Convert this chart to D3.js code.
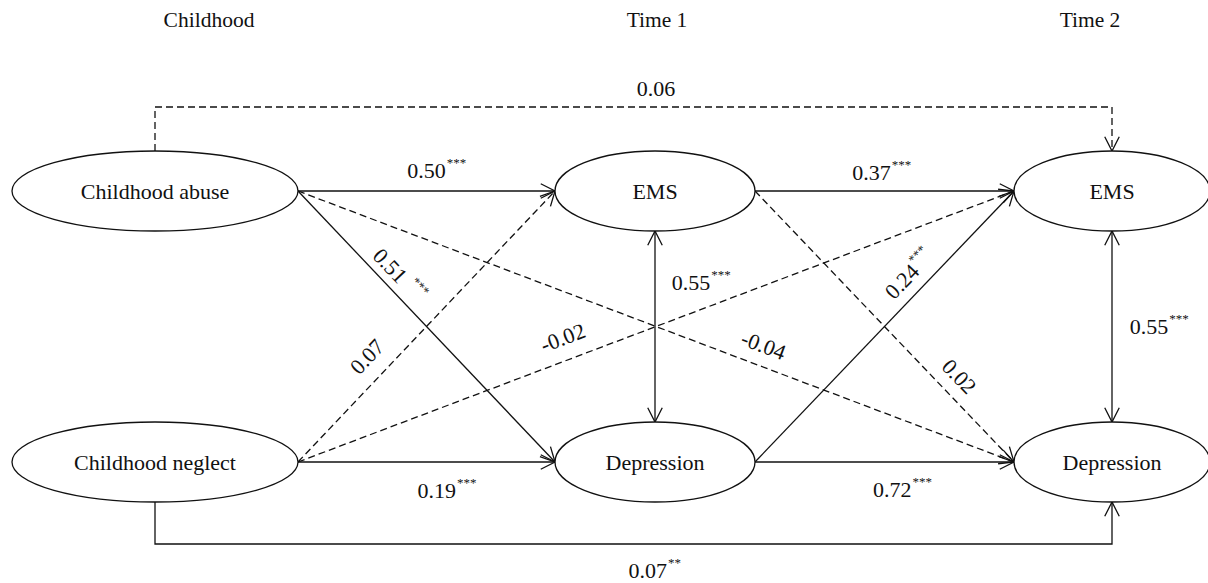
<!DOCTYPE html>
<html>
<head>
<meta charset="utf-8">
<script src="https://cdn.jsdelivr.net/npm/d3@7"></script>
<style>
  html, body { margin: 0; padding: 0; background: #fff; }
  svg { display: block; }
</style>
</head>
<body>
<svg id="chart" width="1208" height="583" font-family="'Liberation Serif', 'Times New Roman', 'DejaVu Serif', serif"></svg>
<script>
// ---------------- data ----------------
const columnHeaders = ["Childhood", "Time 1", "Time 2"];
const nodeLabels = ["Childhood abuse", "Childhood neglect", "EMS", "Depression", "EMS", "Depression"];
const nodeColumn = [0, 0, 1, 1, 2, 2];
const nodeRow    = [0, 1, 0, 1, 0, 1];

const pathFrom     = [0, 0, 0, 1, 1, 1, 2, 2, 3, 3, 2, 4, 0, 1];
const pathTo       = [2, 3, 5, 2, 4, 3, 4, 5, 4, 5, 3, 5, 4, 5];
const pathRoute    = ["direct", "direct", "direct", "direct", "direct", "direct", "direct", "direct", "direct", "direct", "both", "both", "elbow", "elbow"];
const coefficients = ["0.50", "0.51", "-0.04", "0.07", "-0.02", "0.19", "0.37", "0.02", "0.24", "0.72", "0.55", "0.55", "0.06", "0.07"];
const significance = ["***", "***", "", "", "", "***", "***", "", "***", "***", "***", "***", "", "**"];

// ---------------- layout ----------------
const labelT      = [0.50, 0.315, 0.64, 0.332, 0.381, 0.54, 0.45, 0.734, 0.619, 0.53, 0.31, 0.54, 0.5235, 0.515];
const labelOffset = [-13, -8, -13, -15, -15, 36, -11, -12, -11, 35, 36, 37, -11, 34];
const starGap     = [1, 7, 1, 1, 1, 1, 1, 1, 1, 1, 1, 1, 1, 1];

const svg = d3.select("#chart");
const x  = d3.scaleOrdinal().domain([0, 1, 2]).range([155, 655, 1112]);
const headerX = d3.scaleOrdinal().domain([0, 1, 2]).range([209, 657, 1090]);
const y  = d3.scaleOrdinal().domain([0, 1]).range([191, 462]);
const rx = d3.scaleOrdinal().domain([0, 1, 2]).range([143, 100, 98]);
const ry = 40;
const elbowY = d3.scaleOrdinal().domain([0, 1]).range([107, 544]);

const stroke = "#111";
const sw = 1.3;
const dash = "7,4";

// headers
svg.selectAll("text.header").data(columnHeaders).join("text")
  .attr("class", "header")
  .attr("x", (d, i) => headerX(i))
  .attr("y", 27)
  .attr("text-anchor", "middle")
  .attr("font-size", 21.5)
  .attr("fill", "#111")
  .text(d => d);

// build paths
const edges = pathFrom.map((f, i) => {
  const t = pathTo[i];
  const cf = nodeColumn[f], ct = nodeColumn[t];
  const rf = nodeRow[f], rt = nodeRow[t];
  const type = pathRoute[i];
  let pts, seg;
  if (type === "both") {
    const a = [x(cf), y(rf) + ry], b = [x(ct), y(rt) - ry];
    pts = [a, b]; seg = [a, b];
  } else if (type === "elbow") {
    const ey = elbowY(rf);
    const sy = rf === 0 ? y(rf) - ry : y(rf) + ry;
    const ty = rt === 0 ? y(rt) - ry : y(rt) + ry;
    pts = [[x(cf), sy], [x(cf), ey], [x(ct), ey], [x(ct), ty]];
    seg = [[x(cf), ey], [x(ct), ey]];
  } else {
    const a = [x(cf) + rx(cf), y(rf)], b = [x(ct) - rx(ct), y(rt)];
    pts = [a, b]; seg = [a, b];
  }
  return { i, type, pts, seg, coef: coefficients[i], stars: significance[i], dashed: significance[i] === "" };
});

const line = d3.line();
const g = svg.append("g");

g.selectAll("path.edge").data(edges).join("path")
  .attr("class", "edge")
  .attr("d", d => line(d.pts))
  .attr("fill", "none")
  .attr("stroke", stroke)
  .attr("stroke-width", sw)
  .attr("stroke-dasharray", d => d.dashed ? dash : null);

// arrowheads (open V)
function arrowHead(tip, from) {
  const ang = Math.atan2(tip[1] - from[1], tip[0] - from[0]);
  const L = 16, a = 27 * Math.PI / 180;
  const p1 = [tip[0] - L * Math.cos(ang - a), tip[1] - L * Math.sin(ang - a)];
  const p2 = [tip[0] - L * Math.cos(ang + a), tip[1] - L * Math.sin(ang + a)];
  return line([p1, tip, p2]);
}
const heads = [];
edges.forEach(d => {
  const n = d.pts.length;
  heads.push(arrowHead(d.pts[n - 1], d.pts[n - 2]));
  if (d.type === "both") heads.push(arrowHead(d.pts[0], d.pts[1]));
});
g.selectAll("path.head").data(heads).join("path")
  .attr("class", "head")
  .attr("d", d => d)
  .attr("fill", "none")
  .attr("stroke", stroke)
  .attr("stroke-width", sw);

// nodes
const nodes = nodeLabels.map((l, i) => ({ label: l, c: nodeColumn[i], r: nodeRow[i] }));
const ng = svg.append("g").selectAll("g").data(nodes).join("g")
  .attr("transform", d => `translate(${x(d.c)},${y(d.r)})`);
ng.append("ellipse")
  .attr("rx", d => rx(d.c)).attr("ry", ry)
  .attr("fill", "#fff").attr("stroke", stroke).attr("stroke-width", sw);
ng.append("text")
  .attr("text-anchor", "middle")
  .attr("y", 7.5)
  .attr("font-size", 22)
  .attr("fill", "#111")
  .text(d => d.label);

// labels
const lg = svg.append("g");
edges.forEach(d => {
  const [a, b] = d.seg;
  const t = labelT[d.i];
  const px = a[0] + (b[0] - a[0]) * t, py = a[1] + (b[1] - a[1]) * t;
  let cx, cy, angle;
  if (d.type === "both") {
    cx = px + labelOffset[d.i]; cy = py; angle = 0;
  } else {
    const th = Math.atan2(b[1] - a[1], b[0] - a[0]);
    const nx = -Math.sin(th), ny = Math.cos(th);
    cx = px + nx * labelOffset[d.i]; cy = py + ny * labelOffset[d.i];
    angle = th * 180 / Math.PI;
  }
  const lab = lg.append("g").attr("transform", `translate(${cx},${cy}) rotate(${angle})`);
  const num = lab.append("text")
    .attr("text-anchor", "middle")
    .attr("font-size", 22)
    .attr("fill", "#111")
    .text(d.coef);
  const w = num.node().getComputedTextLength();
  if (d.stars) {
    lab.append("text")
      .attr("x", w / 2 + starGap[d.i])
      .attr("y", -11)
      .attr("font-size", 13)
      .attr("fill", "#111")
      .text(d.stars);
  }
});
</script>
</body>
</html>
